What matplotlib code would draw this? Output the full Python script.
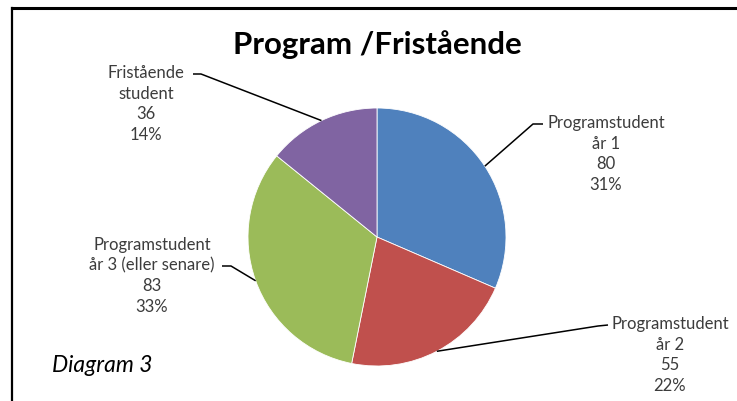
import matplotlib
matplotlib.use('Agg')
import matplotlib.pyplot as plt
import numpy as np

# data
categories = ['Programstudent\når 1', 'Programstudent\når 2',
              'Programstudent\når 3 (eller senare)', 'Fristående\nstudent']
values = [80, 55, 83, 36]
colors = ['#4F81BD', '#C0504D', '#9BBB59', '#8064A2']
title = 'Program /Fristående'
note = 'Diagram 3'

W, H = 737, 401
plt.rcParams['font.family'] = ['Lato', 'DejaVu Sans']


def py(y):
    # pixel row (from top) -> data y
    return H - y


fig = plt.figure(figsize=(W / 100, H / 100), dpi=100)
ax = fig.add_axes([0, 0, 1, 1])

cx, cy, r = 377, py(237), 129
wedges, _ = ax.pie(values, colors=colors, startangle=90, counterclock=False,
                   center=(cx, cy), radius=r,
                   wedgeprops=dict(linewidth=0.6, edgecolor='white'))
ax.set_xlim(0, W)
ax.set_ylim(0, H)
ax.set_aspect('equal')
ax.axis('off')

total = sum(values)
# label block centres and leader elbows (pixels)
label_pos = [(606, 154), (670, 355), (152, 276), (146, 104)]
elbows = [[(543, 124), (533, 124)],
          [(608, 325), (598, 326)],
          [(222, 266), (231, 266)],
          [(193, 74), (201, 74)]]

for w, cat, v, (lx, ly), el in zip(wedges, categories, values, label_pos, elbows):
    mid = np.deg2rad((w.theta1 + w.theta2) / 2)
    ex, ey = cx + r * np.cos(mid), cy + r * np.sin(mid)
    xs = [p[0] for p in el] + [ex]
    ys = [py(p[1]) for p in el] + [ey]
    ax.plot(xs, ys, color='black', lw=1.1, solid_capstyle='butt')
    pct = round(100 * v / total)
    ax.text(lx, py(ly), f'{cat}\n{v}\n{pct}%', ha='center', va='center',
            multialignment='center', fontsize=12, color='#3c3c3c',
            linespacing=1.35)

ax.text(377, py(45), title, ha='center', va='center', fontsize=22.5,
        fontweight='bold', color='black')
ax.text(52, py(365), note, ha='left', va='center', fontsize=16.5,
        style='italic', color='black')

# frame lines
ax.plot([12.5, W], [py(8), py(8)], color='black', lw=2.2, clip_on=False,
        solid_capstyle='projecting')
ax.plot([12.5, 12.5], [py(8), 0], color='black', lw=1.6, clip_on=False,
        solid_capstyle='projecting')

fig.savefig('out.png', dpi=100)
